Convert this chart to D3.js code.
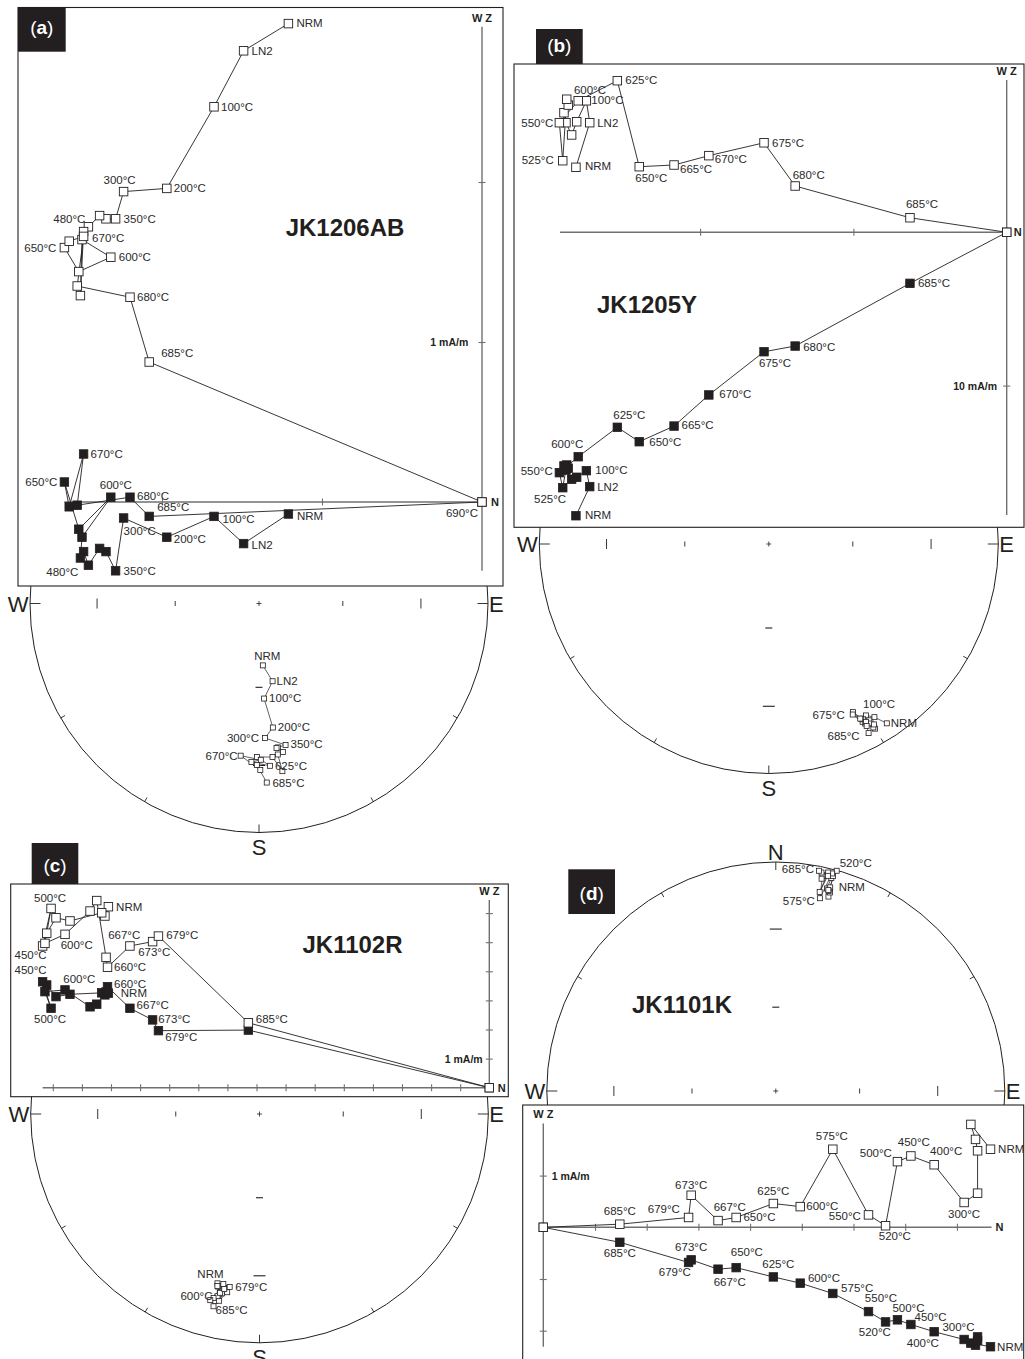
<!DOCTYPE html>
<html>
<head>
<meta charset="utf-8">
<script src="https://cdn.jsdelivr.net/npm/d3@7"></script>
<style>
  body { margin: 0; background: #fff; }
  svg text { font-family: "Liberation Sans", Arial, Helvetica, sans-serif; }
</style>
</head>
<body>
<svg id="fig" width="1025" height="1359"></svg>
<script>
// Thermal demagnetisation data, components in mA/m.
// north: N component (horizontal axis), west: W component (filled squares, horizontal plane),
// up: vertical component (open squares, vertical plane).

// ---- (a) JK1206AB ----
const stepsA = ["NRM","LN2","100°C","200°C","300°C","350°C","400°C","450°C","480°C","520°C","550°C","575°C","600°C","625°C","650°C","660°C","670°C","675°C","680°C","685°C","690°C"];
const northA = [-1.21,-1.49,-1.675,-1.97,-2.24,-2.29,-2.35,-2.39,-2.46,-2.49,-2.51,-2.50,-2.32,-2.52,-2.61,-2.58,-2.49,-2.53,-2.20,-2.08,0];
const westA  = [-0.075,-0.26,-0.09,-0.22,-0.10,-0.43,-0.31,-0.29,-0.395,-0.31,-0.35,-0.22,0.03,-0.17,0.125,-0.03,0.30,-0.02,0.03,-0.09,0];
const upA    = [2.99,2.82,2.47,1.96,1.94,1.77,1.77,1.79,1.72,1.69,1.29,1.64,1.53,1.44,1.59,1.63,1.66,1.35,1.28,0.875,0];

// ---- (b) JK1205Y ----
const stepsB = ["NRM","LN2","100°C","200°C","300°C","350°C","400°C","450°C","500°C","525°C","550°C","600°C","625°C","650°C","665°C","670°C","675°C","680°C","685°C","690°C"];
const northB = [-28.10,-27.20,-27.42,-28.05,-28.38,-28.75,-28.88,-28.60,-28.70,-28.96,-29.18,-27.95,-25.40,-23.97,-21.70,-19.43,-15.83,-13.80,-6.31,0];
const westB  = [-18.49,-16.59,-15.55,-15.98,-16.11,-15.51,-15.24,-15.39,-15.18,-16.66,-15.68,-14.64,-12.72,-13.66,-12.64,-10.61,-7.79,-7.42,-3.33,0];
const upB    = [4.24,7.15,8.58,7.21,6.35,7.15,7.80,8.30,8.68,4.67,7.15,8.58,9.89,4.28,4.39,5.00,5.84,3.02,0.95,0];

// ---- (c) JK1102R ----
const stepsC = ["NRM","100°C","200°C","300°C","350°C","400°C","450°C","500°C","550°C","600°C","625°C","640°C","650°C","660°C","667°C","673°C","679°C","685°C","690°C"];
const northC = [-13.09,-13.21,-13.32,-14.41,-14.89,-15.21,-15.35,-15.06,-15.27,-14.58,-13.72,-13.49,-13.17,-13.12,-12.35,-11.57,-11.37,-8.28,0];
const westC  = [3.25,3.19,3.26,3.21,3.13,3.53,3.64,2.73,3.30,3.36,2.78,2.87,3.29,3.47,2.73,2.33,1.96,1.98,0];
const upC    = [6.22,5.90,6.01,5.73,5.84,5.31,4.87,6.16,4.96,5.27,6.07,6.43,4.48,4.14,4.87,5.02,5.21,2.23,0];

// ---- (d) JK1101K ----
const stepsD = ["NRM","100°C","150°C","200°C","250°C","300°C","400°C","450°C","500°C","520°C","550°C","575°C","600°C","625°C","650°C","667°C","673°C","679°C","685°C","690°C"];
const northD = [8.65,8.27,8.36,8.40,8.40,8.14,7.56,7.11,6.85,6.62,6.29,5.60,4.97,4.45,3.73,3.38,2.86,2.81,1.48,0];
const westD  = [-2.31,-2.24,-2.28,-2.12,-2.19,-2.17,-2.02,-1.88,-1.79,-1.83,-1.63,-1.28,-1.08,-0.96,-0.78,-0.81,-0.63,-0.68,-0.29,0];
const upD    = [1.51,1.99,1.70,1.48,0.66,0.48,1.21,1.38,1.27,0.03,0.24,1.51,0.40,0.46,0.19,0.13,0.62,0.19,0.06,0];

// Axis tick values (mA/m)
const hTicksA = [-2,-1], vTicksA = [1,2];
const hTicksB = [-20,-10], vTicksB = [-10];
const hTicksC = [-15,-14,-13,-12,-11,-10,-9,-8,-7,-6,-5,-4,-3,-2,-1], vTicksC = [1,2,3,4,5,6];
const hTicksD = [1,2,3,4,5,6,7,8], vTicksD = [1,-1,-2];

// Step labels: [step, dx, dy, anchor]
const openLabA = [["NRM",8,3.5,"start"],["LN2",8,4,"start"],["100°C",7,4,"start"],["200°C",7,4,"start"],["300°C",-4,-8,"middle"],["350°C",8,4,"start"],["480°C",-3,-4,"end"],["670°C",8.5,5.5,"start"],["650°C",-8,4,"end"],["600°C",8,4,"start"],["680°C",7,4,"start"],["685°C",12,-5,"start"]];
const fillLabA = [["670°C",7,4,"start"],["650°C",-7,4,"end"],["600°C",5,-8,"middle"],["680°C",7,2.5,"start"],["685°C",8,-5,"start"],["100°C",8.5,7,"start"],["NRM",8.5,6,"start"],["300°C",0,17,"start"],["200°C",7,6,"start"],["LN2",8,5,"start"],["480°C",-10,10.7,"end"],["350°C",8,4.5,"start"],["690°C",-4,14.7,"end"]];
const openLabB = [["625°C",8,3.5,"start"],["600°C",11.7,-6.7,"middle"],["100°C",5,3.5,"start"],["550°C",-6,4,"end"],["LN2",7.5,4,"start"],["525°C",-9,3.5,"end"],["NRM",9,3,"start"],["650°C",-4,15,"start"],["665°C",6,7.5,"start"],["670°C",6,7.5,"start"],["675°C",8,4,"start"],["680°C",-2.5,-7,"start"],["685°C",-4,-9.5,"start"]];
const fillLabB = [["685°C",8,4,"start"],["680°C",8,5,"start"],["675°C",-5,15.6,"start"],["670°C",10.5,3.5,"start"],["665°C",7.5,3,"start"],["650°C",10,4,"start"],["625°C",12,-8,"middle"],["600°C",-11,-8.4,"middle"],["550°C",-6.6,2.3,"end"],["100°C",9,3.5,"start"],["LN2",7.5,4,"start"],["525°C",-12.7,15,"middle"],["NRM",9,3.6,"start"]];
const openLabC = [["500°C",-1,-6.6,"middle"],["NRM",7.7,4,"start"],["450°C",-12,13.3,"middle"],["600°C",11.7,15,"middle"],["667°C",-5.7,-6.7,"middle"],["673°C",1.6,14.3,"middle"],["679°C",7.7,3.3,"start"],["660°C",6.5,3.7,"start"],["685°C",7.4,0.6,"start"]];
const fillLabC = [["450°C",-12,-7.7,"middle"],["600°C",14.3,-6.7,"middle"],["660°C",6.5,1,"start"],["NRM",12.4,4.3,"start"],["667°C",6.7,0.7,"start"],["673°C",5.6,3.3,"start"],["679°C",6.7,10.3,"start"],["500°C",-1,14.4,"middle"]];
const openLabD = [["685°C",0,-9.3,"middle"],["679°C",-8.7,-4,"end"],["673°C",0,-6.7,"middle"],["667°C",11.7,-9.7,"middle"],["650°C",7.3,3.3,"start"],["625°C",0,-8.3,"middle"],["600°C",6,3.3,"start"],["575°C",-1,-9.3,"middle"],["550°C",-7.6,5,"end"],["520°C",9.3,14.7,"middle"],["500°C",-5.6,-5,"end"],["450°C",3,-9.7,"middle"],["400°C",12,-10,"middle"],["300°C",0,15.6,"middle"],["NRM",7.6,3.4,"start"]];
const fillLabD = [["685°C",0,14.4,"middle"],["673°C",0,-9.3,"middle"],["679°C",-13.7,14,"middle"],["650°C",10.7,-12,"middle"],["667°C",11.7,16.4,"middle"],["625°C",5,-9.4,"middle"],["600°C",7.7,-1.6,"start"],["575°C",8.3,-1.6,"start"],["550°C",12.4,-10,"middle"],["500°C",11,-8.3,"middle"],["450°C",19.7,-3.6,"middle"],["300°C",-5.7,-8.6,"middle"],["520°C",-10.7,14.3,"middle"],["400°C",-11.3,15,"middle"],["NRM",6.6,4,"start"]];

// Stereonet labels
const netLabA = [["NRM",4.4,-5.7,"middle"],["LN2",4,3.3,"start"],["100°C",5,3.5,"start"],["200°C",5,3.3,"start"],["300°C",-6,4,"end"],["350°C",5,3.3,"start"],["670°C",-3,4,"end"],["625°C",5,4,"start"],["685°C",5.7,4,"start"]];
const netLabB = [["100°C",-3,-7,"start"],["675°C",-8,4,"end"],["685°C",-9,6.5,"end"],["NRM",4,3.5,"start"]];
const netLabC = [["NRM",-7,-5,"middle"],["679°C",5.5,4,"start"],["600°C",-5,4,"end"],["685°C",2,8,"start"]];
const netLabD = [["685°C",-5,2,"end"],["520°C",3,-4,"start"],["NRM",9,2.5,"start"],["575°C",-5,7,"end"]];

// ---------------- drawing ----------------
const INK = "#231f20", AXIS = "#707070", TXT = "#2a2a2a";
const svg = d3.select("#fig");
const gNets = svg.append("g");
const gZij = svg.append("g");

const panels = [
  { tag:"a", name:"JK1206AB", steps:stepsA, north:northA, west:westA, up:upA,
    hTicks:hTicksA, vTicks:vTicksA, openLab:openLabA, fillLab:fillLabA, netLab:netLabA,
    frame:[18,7.5,485,578.5], tagBox:[18,7.5,47.7,44.2], tagText:[41.8,34],
    origin:[482,502], k:160, hExt:[-2.61,0], vExt:[-0.43,2.97],
    scaleLab:{v:1, text:"1 mA/m", dx:-13.7, anchor:"end"}, nDx:9, nameXY:[345,236],
    net:{cx:259, cy:603.5, R:229, pole:"S"} },
  { tag:"b", name:"JK1205Y", steps:stepsB, north:northB, west:westB, up:upB,
    hTicks:hTicksB, vTicks:vTicksB, openLab:openLabB, fillLab:fillLabB, netLab:netLabB,
    frame:[514,64,510,463.3], tagBox:[536,29,46.7,35], tagText:[559.3,52],
    origin:[1006.7,232.3], k:15.33, hExt:[-29.14,0], vExt:[-18.44,9.93],
    scaleLab:{v:-10, text:"10 mA/m", dx:-9.7, anchor:"end"}, nDx:7, nameXY:[647,313],
    net:{cx:768.8, cy:544, R:229.5, pole:"S"} },
  { tag:"c", name:"JK1102R", steps:stepsC, north:northC, west:westC, up:upC,
    hTicks:hTicksC, vTicks:vTicksC, openLab:openLabC, fillLab:fillLabC, netLab:netLabC,
    frame:[10.7,884,497.6,212.7], tagBox:[31.7,843,46.6,41], tagText:[55,872],
    origin:[489.3,1087.7], k:29.1, hExt:[-15.35,0], vExt:[0,6.45],
    scaleLab:{v:1, text:"1 mA/m", dx:-6.6, anchor:"end"}, nDx:8.5, nameXY:[352.5,953],
    net:{cx:259.5, cy:1114, R:228.8, pole:"S"} },
  { tag:"d", name:"JK1101K", steps:stepsD, north:northD, west:westD, up:upD,
    hTicks:hTicksD, vTicks:vTicksD, openLab:openLabD, fillLab:fillLabD, netLab:netLabD,
    frame:[522.7,1105,501,270], tagBox:[568.3,869.3,46.7,44.7], tagText:[591.7,900],
    origin:[543.3,1227.3], k:51.7, hExt:[0,8.67], vExt:[-2.31,2.01],
    scaleLab:{v:1, text:"1 mA/m", dx:8.4, anchor:"start"}, nDx:4, nameXY:[682,1013.3],
    net:{cx:775.8, cy:1091, R:229, pole:"N"} }
];

const rad = Math.PI / 180;
// Equal-area (Lambert) radius for an inclination, as a fraction of the net radius
const eqArea = inc => Math.SQRT2 * Math.sin((90 - Math.abs(inc)) / 2 * rad);

function drawNet(p) {
  const { cx, cy, R, pole } = p.net;
  const g = gNets.append("g");
  const ex = d3.scaleLinear().domain([-1, 1]).range([cx - R, cx + R]);
  const ny = d3.scaleLinear().domain([-1, 1]).range([cy + R, cy - R]);
  const ln = (x1, y1, x2, y2, w) => g.append("line").attr("x1", x1).attr("y1", y1).attr("x2", x2).attr("y2", y2)
      .attr("stroke", INK).attr("stroke-width", w || 0.9);

  g.append("circle").attr("cx", cx).attr("cy", cy).attr("r", R)
    .attr("fill", "none").attr("stroke", INK).attr("stroke-width", 1);

  // ticks on the primitive every 30 degrees
  for (let az = 0; az < 360; az += 30) {
    const a = az * rad;
    const len = (az === 90 || az === 270) ? 10.5 : (az % 180 === 0 ? 8 : 5);
    const f = 1 - len / R;
    ln(ex(Math.sin(a)), ny(Math.cos(a)), ex(f * Math.sin(a)), ny(f * Math.cos(a)));
  }
  // inclination ticks (30 and 60 degrees) on both diameters
  [[30, 10, 12], [60, 5, 7]].forEach(([inc, vLen, hLen]) => {
    const r = eqArea(inc);
    [-1, 1].forEach(s => {
      ln(ex(s * r), cy - vLen / 2, ex(s * r), cy + vLen / 2);
      ln(cx - hLen / 2, ny(s * r), cx + hLen / 2, ny(s * r), 1.1);
    });
  });
  ln(cx - 2.5, cy, cx + 2.5, cy, 0.8);
  ln(cx, cy - 2.5, cx, cy + 2.5, 0.8);

  const card = (t, x, y, anchor) => g.append("text").attr("x", x).attr("y", y)
    .attr("text-anchor", anchor).attr("font-size", 22).attr("fill", INK)
    .attr("font-family", "'Open Sans', 'Liberation Sans', sans-serif").text(t);
  card("W", cx - R - 1.5, cy + 8, "end");
  card("E", cx + R + 1, cy + 8, "start");
  if (pole === "S") card("S", cx, cy + R + 22, "middle");
  else card("N", cx, cy - R - 2.5, "middle");

  // directions of each remaining vector
  const pts = p.steps.map((s, i) => {
    const n = p.north[i], e = -p.west[i], u = p.up[i];
    const h = Math.hypot(n, e);
    if (h === 0 && u === 0) return null;
    const dec = Math.atan2(e, n);
    const inc = Math.atan2(u, h) / rad;
    const r = eqArea(inc);
    return { step: s, x: ex(r * Math.sin(dec)), y: ny(r * Math.cos(dec)), up: u >= 0 };
  }).filter(d => d);

  g.append("path").attr("d", d3.line().x(d => d.x).y(d => d.y)(pts))
    .attr("fill", "none").attr("stroke", INK).attr("stroke-width", 0.7);
  const sq = 5;
  g.selectAll("rect.pt").data(pts).join("rect").attr("class", "pt")
    .attr("x", d => d.x - sq / 2).attr("y", d => d.y - sq / 2).attr("width", sq).attr("height", sq)
    .attr("fill", d => d.up ? "#fff" : INK).attr("stroke", INK).attr("stroke-width", 0.8);

  p.netLab.forEach(([s, dx, dy, anchor]) => {
    const d = pts.find(q => q.step === s);
    if (!d) return;
    g.append("text").attr("x", d.x + dx).attr("y", d.y + dy).attr("text-anchor", anchor)
      .attr("font-size", 11.5).attr("fill", TXT).text(s);
  });
}

function drawZij(p) {
  const g = gZij.append("g");
  const [fx, fy, fw, fh] = p.frame;
  g.append("rect").attr("x", fx).attr("y", fy).attr("width", fw).attr("height", fh)
    .attr("fill", "#fff").attr("stroke", INK).attr("stroke-width", 1.1);

  const [ox, oy] = p.origin, k = p.k;
  const x = d3.scaleLinear().domain(p.hExt).range(p.hExt.map(v => ox + v * k));
  const y = d3.scaleLinear().domain(p.vExt).range(p.vExt.map(v => oy - v * k));

  // axes through the origin
  g.append("line").attr("x1", x(p.hExt[0])).attr("x2", x(p.hExt[1])).attr("y1", y(0)).attr("y2", y(0))
    .attr("stroke", AXIS).attr("stroke-width", 1.4);
  g.append("line").attr("x1", x(0)).attr("x2", x(0)).attr("y1", y(p.vExt[0])).attr("y2", y(p.vExt[1]))
    .attr("stroke", AXIS).attr("stroke-width", 1.4);

  const ha = g.append("g").attr("transform", `translate(0,${y(0)})`)
    .call(d3.axisBottom(x).tickValues(p.hTicks).tickSize(3.5).tickFormat(""));
  ha.select(".domain").remove();
  ha.selectAll(".tick line").attr("y1", -3.5).attr("stroke", AXIS).attr("stroke-width", 1.1);
  const va = g.append("g").attr("transform", `translate(${x(0)},0)`)
    .call(d3.axisLeft(y).tickValues(p.vTicks).tickSize(3.5).tickFormat(""));
  va.select(".domain").remove();
  va.selectAll(".tick line").attr("x1", 3.5).attr("stroke", AXIS).attr("stroke-width", 1.1);

  // axis captions
  g.append("text").attr("x", x(0)).attr("y", y(p.vExt[1]) - 5).attr("text-anchor", "middle")
    .attr("font-size", 11).attr("font-weight", "bold").attr("fill", INK).text("W Z");
  g.append("text").attr("x", (p.hExt[1] > 0 ? x(p.hExt[1]) : x(0)) + p.nDx).attr("y", y(0) + 4)
    .attr("font-size", 11).attr("font-weight", "bold").attr("fill", INK).text("N");
  g.append("text").attr("x", x(0) + p.scaleLab.dx).attr("y", y(p.scaleLab.v) + 4)
    .attr("text-anchor", p.scaleLab.anchor).attr("font-size", 10.5).attr("font-weight", "bold")
    .attr("fill", INK).text(p.scaleLab.text);

  const idx = p.steps.map((s, i) => i);
  const lineFill = d3.line().x(i => x(p.north[i])).y(i => y(p.west[i]));
  const lineOpen = d3.line().x(i => x(p.north[i])).y(i => y(p.up[i]));
  const sq = 8.5;

  g.append("path").attr("d", lineFill(idx)).attr("fill", "none").attr("stroke", INK).attr("stroke-width", 0.9);
  g.selectAll("rect.f").data(idx).join("rect").attr("class", "f")
    .attr("x", i => x(p.north[i]) - sq / 2).attr("y", i => y(p.west[i]) - sq / 2)
    .attr("width", sq).attr("height", sq).attr("fill", INK).attr("stroke", INK).attr("stroke-width", 0.8);
  g.append("path").attr("d", lineOpen(idx)).attr("fill", "none").attr("stroke", INK).attr("stroke-width", 0.9);
  g.selectAll("rect.o").data(idx).join("rect").attr("class", "o")
    .attr("x", i => x(p.north[i]) - sq / 2).attr("y", i => y(p.up[i]) - sq / 2)
    .attr("width", sq).attr("height", sq).attr("fill", "#fff").attr("stroke", INK).attr("stroke-width", 0.9);

  const lab = (list, comp) => list.forEach(([s, dx, dy, anchor]) => {
    const i = p.steps.indexOf(s);
    if (i < 0) return;
    g.append("text").attr("x", x(p.north[i]) + dx).attr("y", y(comp[i]) + dy)
      .attr("text-anchor", anchor).attr("font-size", 11.5).attr("fill", TXT).text(s);
  });
  lab(p.openLab, p.up);
  lab(p.fillLab, p.west);

  g.append("text").attr("x", p.nameXY[0]).attr("y", p.nameXY[1]).attr("text-anchor", "middle")
    .attr("font-size", 24).attr("font-weight", "bold").attr("fill", INK).text(p.name);

  const [tx, ty, tw, th] = p.tagBox;
  g.append("rect").attr("x", tx).attr("y", ty).attr("width", tw).attr("height", th).attr("fill", INK);
  const t = g.append("text").attr("x", p.tagText[0]).attr("y", p.tagText[1]).attr("text-anchor", "middle")
    .attr("font-size", 19).attr("fill", "#fff");
  t.append("tspan").text("(");
  t.append("tspan").attr("font-weight", "bold").text(p.tag);
  t.append("tspan").text(")");
}

panels.forEach(drawNet);
panels.forEach(drawZij);
// panel (d): its name and tag sit on the stereonet, keep them above it
</script>
</body>
</html>
